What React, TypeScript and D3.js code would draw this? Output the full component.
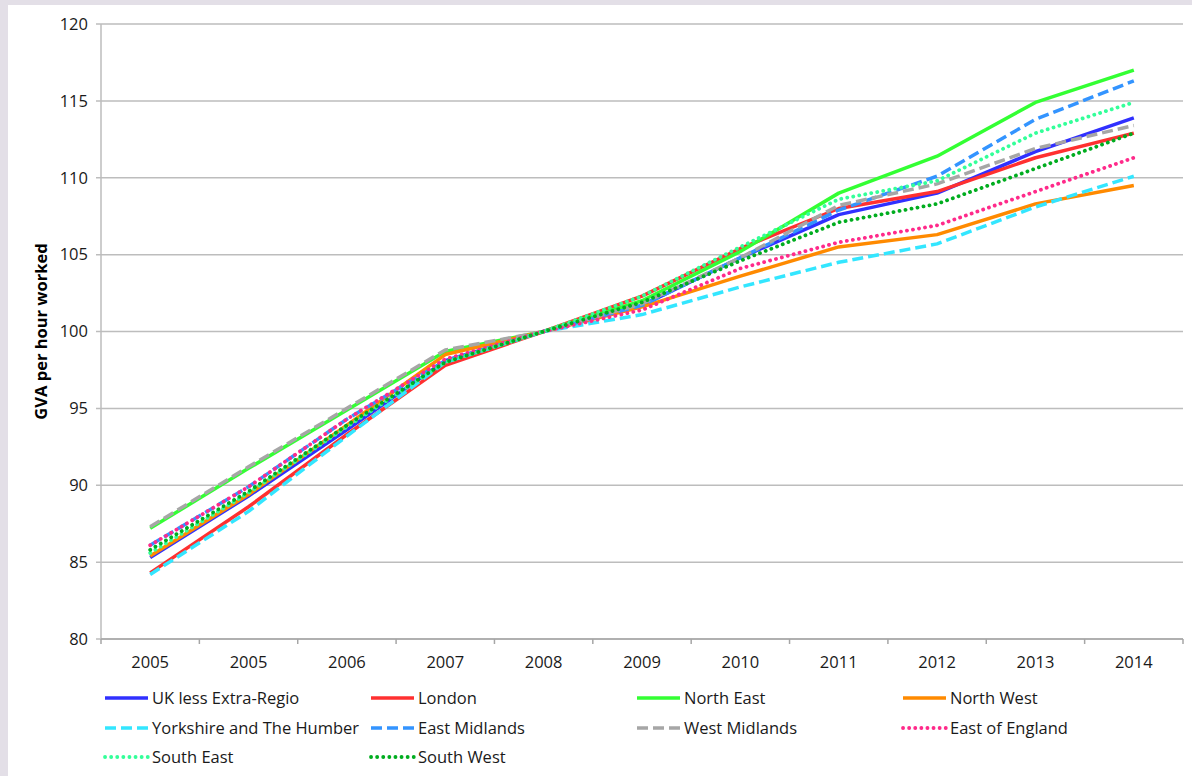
import React from "react";
import * as d3 from "d3";

const categories = ["2005", "2005", "2006", "2007", "2008", "2009", "2010", "2011", "2012", "2013", "2014"];
const yTicks = [80, 85, 90, 95, 100, 105, 110, 115, 120];

const ukLessExtraRegio = [85.3, 89.3, 93.6, 98.1, 100, 101.7, 104.8, 107.6, 109.0, 111.7, 113.9];
const london = [84.3, 88.6, 93.3, 97.8, 100, 102.3, 105.4, 108.0, 109.1, 111.3, 112.9];
const northEast = [87.2, 91.1, 94.9, 98.7, 100, 102.0, 105.2, 109.0, 111.4, 114.9, 117.0];
const northWest = [85.4, 89.4, 93.9, 98.5, 100, 101.6, 103.6, 105.5, 106.3, 108.3, 109.5];
const yorkshire = [84.2, 88.3, 93.2, 98.0, 100, 101.1, 102.9, 104.5, 105.7, 108.1, 110.1];
const eastMidlands = [86.1, 89.9, 94.3, 98.1, 100, 101.7, 104.8, 107.9, 110.1, 113.8, 116.3];
const westMidlands = [87.3, 91.2, 95.0, 98.8, 100, 101.8, 104.8, 108.2, 109.6, 111.9, 113.4];
const eastOfEngland = [86.1, 89.9, 94.3, 98.2, 100, 101.4, 104.1, 105.8, 106.9, 109.1, 111.3];
const southEast = [85.6, 89.5, 93.8, 98.0, 100, 102.3, 105.5, 108.6, 109.8, 112.9, 114.9];
const southWest = [85.8, 89.6, 93.9, 98.0, 100, 101.9, 104.6, 107.1, 108.3, 110.6, 112.9];

type Style = "solid" | "dash" | "dot";
const series: { name: string; values: number[]; color: string; style: Style }[] = [
  { name: "UK less Extra-Regio", values: ukLessExtraRegio, color: "#3030ff", style: "solid" },
  { name: "London", values: london, color: "#ff3030", style: "solid" },
  { name: "North East", values: northEast, color: "#33ff33", style: "solid" },
  { name: "North West", values: northWest, color: "#ff8a00", style: "solid" },
  { name: "Yorkshire and The Humber", values: yorkshire, color: "#33e6ff", style: "dash" },
  { name: "East Midlands", values: eastMidlands, color: "#3394ff", style: "dash" },
  { name: "West Midlands", values: westMidlands, color: "#a6a6a6", style: "dash" },
  { name: "East of England", values: eastOfEngland, color: "#ff2a8a", style: "dot" },
  { name: "South East", values: southEast, color: "#33ff99", style: "dot" },
  { name: "South West", values: southWest, color: "#00ad1f", style: "dot" },
];

const W = 1192;
const H = 776;
const left = 101;
const right = 1183;
const top = 24;
const bottom = 639;
const FONT = "'Open Sans', 'Noto Sans', sans-serif";

function dashFor(s: Style) {
  if (s === "dash") return "11,5";
  if (s === "dot") return "0.1,6";
  return undefined;
}

export default function App() {
  const x = d3.scaleBand<number>().domain(d3.range(categories.length)).range([left, right]).padding(0);
  const y = d3.scaleLinear().domain([80, 120]).range([bottom, top]);
  const line = d3
    .line<number>()
    .x((_, i) => (x(i) as number) + x.bandwidth() / 2)
    .y((v) => y(v));

  const legendCols = [105, 371, 637, 903];
  const legendRows = [698, 728, 757];

  return (
    <div style={{ position: "absolute", left: 0, top: 0 }}>
      <svg width={W} height={H} style={{ display: "block" }}>
        <rect x={0} y={0} width={W} height={H} fill="#ffffff" />
        <rect x={0} y={0} width={W} height={5} fill="#e3dfe7" />
        <rect x={0} y={0} width={8} height={H} fill="#e3dfe7" />
        {yTicks.map((t) => (
          <g key={t}>
            <line x1={96} x2={right} y1={y(t)} y2={y(t)} stroke="#bdbdbd" strokeWidth={1.5} />
            <text x={88} y={y(t)} dy="0.35em" textAnchor="end" fontFamily={FONT} fontSize={16.5} fill="#1a1a1a">
              {t}
            </text>
          </g>
        ))}
        <line x1={left} x2={left} y1={top} y2={bottom} stroke="#bdbdbd" strokeWidth={1.5} />
        <line x1={left} x2={right} y1={bottom} y2={bottom} stroke="#a6a6a6" strokeWidth={1.5} />
        {d3.range(categories.length + 1).map((i) => {
          const px = i < categories.length ? (x(i) as number) : right;
          return <line key={i} x1={px} x2={px} y1={bottom} y2={bottom + 5} stroke="#a6a6a6" strokeWidth={1.5} />;
        })}
        {categories.map((c, i) => (
          <text
            key={i}
            x={(x(i) as number) + x.bandwidth() / 2}
            y={662}
            dy="0.35em"
            textAnchor="middle"
            fontFamily={FONT}
            fontSize={16.5}
            fill="#1a1a1a"
          >
            {c}
          </text>
        ))}
        <text
          transform={`translate(41,${(top + bottom) / 2}) rotate(-90)`}
          textAnchor="middle"
          dy="0.35em"
          fontFamily={FONT}
          fontSize={16.5}
          fontWeight="bold"
          fill="#000"
        >
          GVA per hour worked
        </text>
        {series.map((s) => (
          <path
            key={s.name}
            d={line(s.values) || ""}
            fill="none"
            stroke={s.color}
            strokeWidth={s.style === "dot" ? 3.8 : 3.5}
            strokeDasharray={dashFor(s.style)}
            strokeLinecap={s.style === "dot" ? "round" : "butt"}
            strokeLinejoin="round"
          />
        ))}
        {series.map((s, i) => {
          const cx = legendCols[i % 4];
          const cy = legendRows[Math.floor(i / 4)];
          return (
            <g key={s.name}>
              <line
                x1={cx}
                x2={cx + 43}
                y1={cy}
                y2={cy}
                stroke={s.color}
                strokeWidth={s.style === "dot" ? 3.8 : 3.5}
                strokeDasharray={dashFor(s.style)}
                strokeLinecap={s.style === "dot" ? "round" : "butt"}
              />
              <text x={cx + 47} y={cy} dy="0.35em" fontFamily={FONT} fontSize={16.5} fill="#1a1a1a">
                {s.name}
              </text>
            </g>
          );
        })}
      </svg>
    </div>
  );
}
